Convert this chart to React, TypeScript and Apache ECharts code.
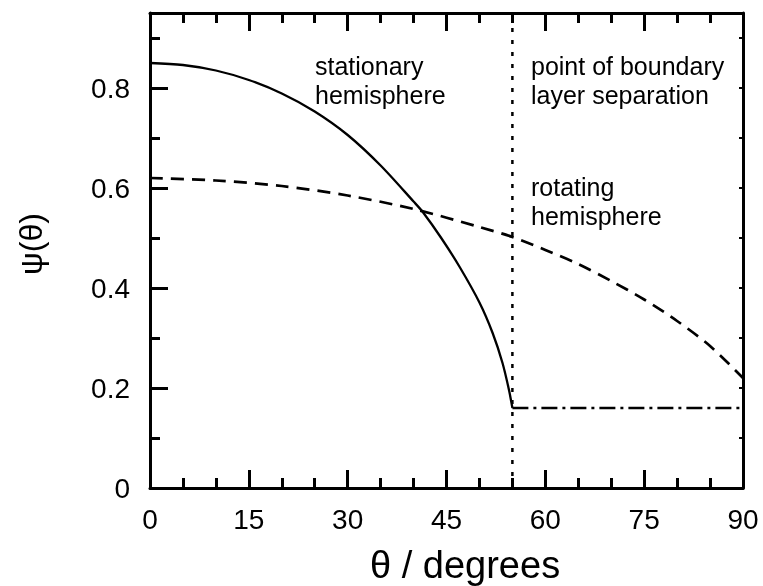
import React, { useEffect, useRef } from "react";
import * as echarts from "echarts";

const FONT = "'Liberation Sans', Arial, Helvetica, sans-serif";

const xTicks = [0, 15, 30, 45, 60, 75, 90];
const yMax = 0.95;

// stationary hemisphere (solid)
const thetaStationary = [0, 5, 10, 15, 20, 25, 30, 35, 40, 41.4, 44.2, 47, 50, 52, 53.5, 54.5, 55];
const psiStationary = [0.85, 0.846, 0.835, 0.816, 0.789, 0.753, 0.706, 0.645, 0.573, 0.552, 0.5, 0.442, 0.371, 0.31, 0.25, 0.195, 0.16];

// rotating hemisphere (dashed)
const thetaRotating = [0, 10, 20, 30, 40, 50, 55, 60, 65, 70, 75, 80, 85, 90];
const psiRotating = [0.62, 0.615, 0.604, 0.585, 0.558, 0.522, 0.502, 0.476, 0.448, 0.414, 0.377, 0.334, 0.284, 0.22];

// after separation (dash-dot)
const thetaAfter = [55, 90];
const psiAfter = [0.16, 0.16];

// separation marker (dotted)
const separationTheta = 55;

const labelsStationary = ["stationary", "hemisphere"];
const labelsSeparation = ["point of boundary", "layer separation"];
const labelsRotating = ["rotating", "hemisphere"];

const pairs = (xs: number[], ys: number[]) => xs.map((x, i) => [x, ys[i]]);

export default function App() {
  const ref = useRef<HTMLDivElement>(null);
  useEffect(() => {
    if (!ref.current) return;
    const chart = echarts.init(ref.current, undefined, { renderer: "svg" });
    const black = "#000";
    const axisLine = { show: true, onZero: false, lineStyle: { color: black, width: 3 } };
    const textLine = (text: string, x: number, y: number, size = 25) => ({
      type: "text",
      x,
      y,
      style: { text, fill: black, font: `${size}px ${FONT}`, textAlign: "left", textVerticalAlign: "middle" },
    });
    chart.setOption({
      animation: false,
      grid: { left: 150, right: 20, top: 13, bottom: 98, containLabel: false },
      xAxis: [
        {
          type: "value",
          min: 0,
          max: 90,
          interval: 15,
          position: "bottom",
          axisLine,
          axisTick: { show: true, inside: true, length: 18, lineStyle: { color: black, width: 3 } },
          minorTick: { show: true, splitNumber: 3, length: 10, lineStyle: { color: black, width: 3 } },
          axisLabel: {
            color: black,
            fontSize: 28,
            fontFamily: FONT,
            margin: 17,
            formatter: (v: number) => (xTicks.includes(v) ? String(v) : ""),
          },
          splitLine: { show: false },
          minorSplitLine: { show: false },
        },
        {
          type: "value",
          min: 0,
          max: 90,
          interval: 15,
          position: "top",
          axisLine,
          axisTick: { show: true, inside: true, length: 18, lineStyle: { color: black, width: 3 } },
          minorTick: { show: true, splitNumber: 3, length: 10, lineStyle: { color: black, width: 3 } },
          axisLabel: { show: false },
          splitLine: { show: false },
          minorSplitLine: { show: false },
        },
      ],
      yAxis: [
        {
          type: "value",
          min: 0,
          max: yMax,
          interval: 0.2,
          position: "left",
          axisLine,
          axisTick: { show: true, inside: true, length: 18, lineStyle: { color: black, width: 3 } },
          axisLabel: {
            color: black,
            fontSize: 28,
            fontFamily: FONT,
            margin: 20,
            formatter: (v: number) => {
              const k = v / 0.2;
              if (Math.abs(k - Math.round(k)) > 1e-6) return "";
              return v === 0 ? "0" : String(+v.toFixed(1));
            },
          },
          splitLine: { show: false },
        },
        {
          type: "value",
          min: 0,
          max: yMax,
          interval: 0.1,
          position: "left",
          axisLine: { show: false, onZero: false },
          axisTick: { show: true, inside: true, length: 10, lineStyle: { color: black, width: 3 } },
          axisLabel: { show: false },
          splitLine: { show: false },
        },
        {
          type: "value",
          min: 0,
          max: yMax,
          interval: 0.1,
          position: "right",
          axisLine,
          axisTick: { show: true, inside: true, length: 4, lineStyle: { color: black, width: 2 } },
          axisLabel: { show: false },
          splitLine: { show: false },
        },
      ],
      series: [
        {
          type: "line",
          data: pairs(thetaStationary, psiStationary),
          showSymbol: false,
          smooth: 0.3,
          lineStyle: { color: black, width: 2.3, type: "solid" },
        },
        {
          type: "line",
          data: pairs(thetaRotating, psiRotating),
          showSymbol: false,
          smooth: 0.3,
          lineStyle: { color: black, width: 2.7, type: [13, 8] },
        },
        {
          type: "line",
          data: pairs(thetaAfter, psiAfter),
          showSymbol: false,
          lineStyle: { color: black, width: 2.7, type: [16, 5, 3, 5] },
        },
        {
          type: "line",
          data: [
            [separationTheta, 0],
            [separationTheta, yMax],
          ],
          showSymbol: false,
          lineStyle: { color: black, width: 2.5, type: [4, 8] },
        },
      ],
      graphic: [
        textLine(labelsStationary[0], 315, 66),
        textLine(labelsStationary[1], 315, 95),
        textLine(labelsSeparation[0], 531, 66),
        textLine(labelsSeparation[1], 531, 95),
        textLine(labelsRotating[0], 531, 187),
        textLine(labelsRotating[1], 531, 216),
        {
          type: "text",
          x: 370,
          y: 565,
          style: { text: "θ / degrees", fill: black, font: `38px ${FONT}`, textAlign: "left", textVerticalAlign: "middle" },
        },
        {
          type: "text",
          x: 31,
          y: 244,
          rotation: Math.PI / 2,
          style: { text: "ψ(θ)", fill: black, font: `32px ${FONT}`, textAlign: "center", textVerticalAlign: "middle" },
        },
      ],
    });
    return () => chart.dispose();
  }, []);
  return <div ref={ref} style={{ position: "fixed", left: 0, top: 0, width: 763, height: 586 }} />;
}
